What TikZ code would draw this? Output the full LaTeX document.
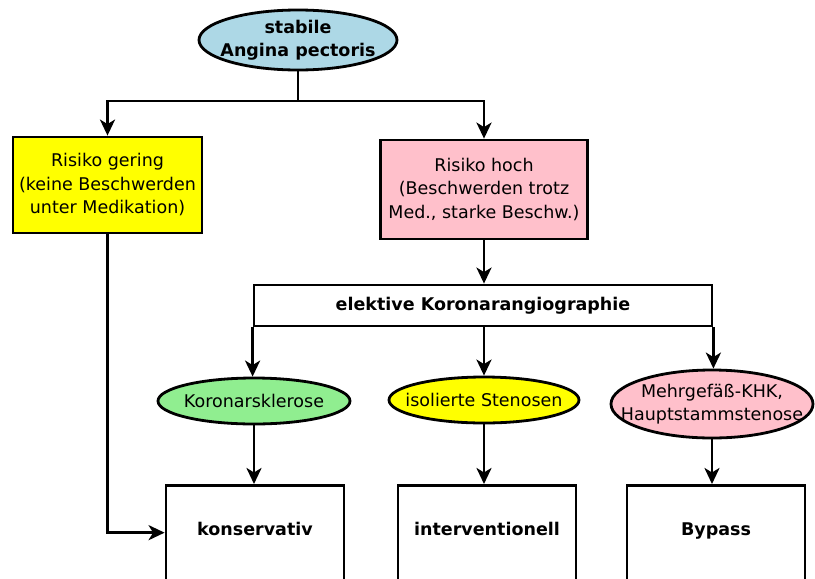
\documentclass[tikz,border=0pt]{standalone}
\usepackage{fontspec}
\setmainfont{DejaVu Sans}
\usetikzlibrary{shapes.geometric,arrows.meta}
\definecolor{cblue}{RGB}{173,216,230}
\definecolor{cpink}{RGB}{255,192,203}
\definecolor{cgreen}{RGB}{144,238,144}
\definecolor{cyellow}{RGB}{255,255,0}
\tikzset{
  base/.style={draw=black, line width=2.8pt, align=center, font=\fontsize{17.5}{23.5}\selectfont},
  ell/.style={base, ellipse, inner xsep=-30pt, inner ysep=-10pt},
  box/.style={base, rectangle, inner sep=0pt},
  botbox/.style={base, rectangle, font=\bfseries\fontsize{17.5}{23.5}\selectfont, minimum width=178pt, inner xsep=0pt, inner ysep=38pt, text height=12pt, text depth=90pt, anchor=north},
  conn/.style={line width=2.8pt},
  arr/.style={conn, -{Stealth[length=16pt, width=15pt, inset=4.5pt]}}
}
\begin{document}
\begin{tikzpicture}[x=1pt,y=-1pt]
\clip (0,0) rectangle (815,579);
\fill[white] (0,0) rectangle (815,579);
\node[ell, fill=cblue, minimum width=198pt, minimum height=60pt, font=\bfseries\fontsize{17.5}{23.5}\selectfont] (top) at (298,40) {stabile\\Angina pectoris};
\node[box, fill=cyellow, minimum width=189pt, minimum height=96pt] (low) at (107.5,185) {Risiko gering\\(keine Beschwerden\\unter Medikation)};
\node[box, fill=cpink, minimum width=207pt, minimum height=99pt] (high) at (484,189.5) {Risiko hoch\\(Beschwerden trotz\\Med., starke Beschw.)};
\node[box, fill=white, minimum width=458pt, minimum height=41pt, font=\bfseries\fontsize{17.5}{23.5}\selectfont] (angio) at (483,305.5) {elektive Koronarangiographie};
\node[ell, fill=cgreen, minimum width=192pt, minimum height=46pt] (kor) at (254,401) {Koronarsklerose};
\node[ell, fill=cyellow, minimum width=190pt, minimum height=46pt] (iso) at (484,400) {isolierte Stenosen};
\node[ell, fill=cpink, minimum width=202pt, minimum height=68pt] (mehr) at (712,404) {Mehrgefäß-KHK,\\Hauptstammstenose};
\node[botbox, fill=white] (kons) at (255,484) {konservativ};
\node[botbox, fill=white] (interv) at (487,484) {interventionell};
\node[botbox, fill=white] (bypass) at (716,484) {Bypass};
\coordinate (split) at (298,101);
\draw[conn] (top.south) -- (split);
\draw[arr] (split) -| (low.north);
\draw[arr] (split) -| (high.north);
\draw[arr] (high.south) -- (high.south |- angio.north);
\draw[arr] (angio.south west) -- (angio.south west |- kor.north);
\draw[arr] (iso.north |- angio.south) -- (iso.north);
\draw[arr] (angio.south east) -- (angio.south east |- mehr.north);
\draw[arr] (kor.south) -- (kor.south |- kons.north);
\draw[arr] (iso.south) -- (iso.south |- interv.north);
\draw[arr] (mehr.south) -- (mehr.south |- bypass.north);
\draw[arr] (low.south) |- (kons.mid west);
\end{tikzpicture}
\end{document}
